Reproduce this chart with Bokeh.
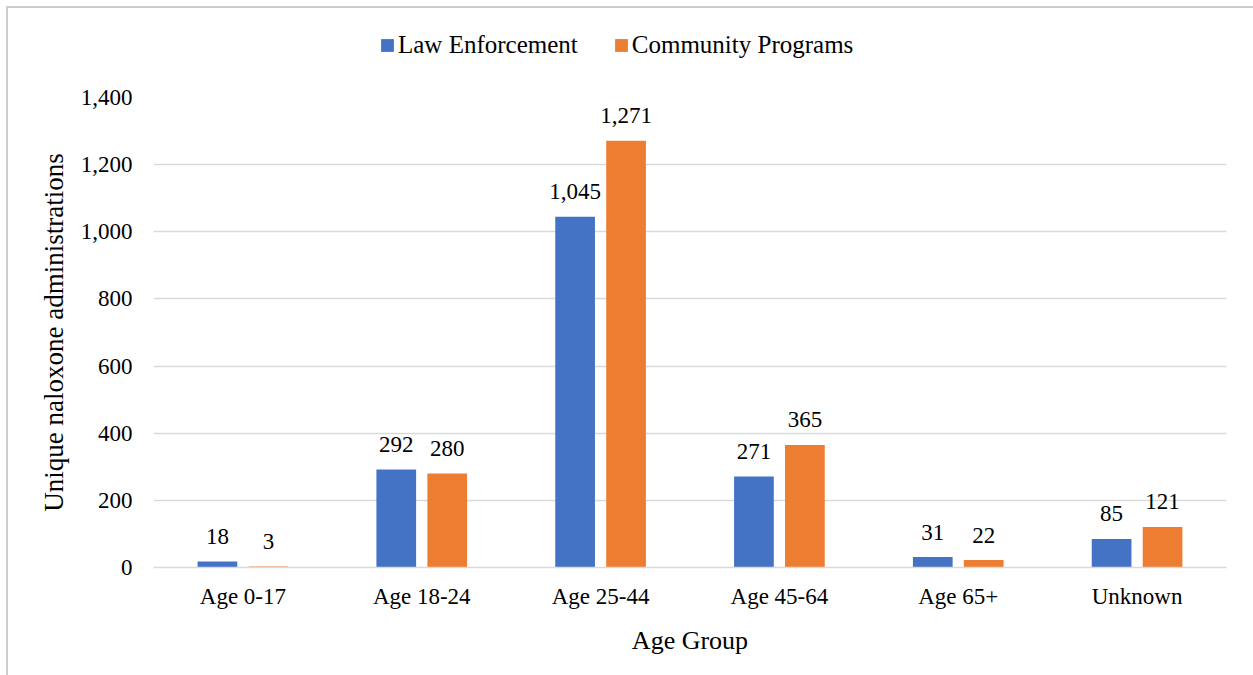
from bokeh.plotting import figure
from bokeh.layouts import column
from bokeh.models import ColumnDataSource, FactorRange, Range1d, NumeralTickFormatter, Legend, LegendItem, FixedTicker
from bokeh.transform import dodge
from bokeh.core.properties import value
from bokeh.embed import file_html
from bokeh.resources import INLINE

# ---- data ----
age_groups = ["Age 0-17", "Age 18-24", "Age 25-44", "Age 45-64", "Age 65+", "Unknown"]
law_enforcement = [18, 292, 1045, 271, 31, 85]
community_programs = [3, 280, 1271, 365, 22, 121]
series_names = ["Law Enforcement", "Community Programs"]
y_ticks = [0, 200, 400, 600, 800, 1000, 1200, 1400]
x_title = "Age Group"
y_title = "Unique naloxone administrations"

FONT = "Liberation Serif"
BLUE = "#4472C4"
ORANGE = "#ED7D31"
GRID = "#d9d9d9"
EDGE = "#cccccc"

src = ColumnDataSource(dict(
    cat=age_groups,
    le=law_enforcement,
    cp=community_programs,
    le_lab=[f"{v:,}" for v in law_enforcement],
    cp_lab=[f"{v:,}" for v in community_programs],
))

# ---------- legend strip ----------
LEG_H = 70
lg = figure(width=1253, height=LEG_H, x_range=Range1d(0, 1), y_range=Range1d(0, 1),
            x_axis_location=None, y_axis_location=None,
            output_backend="svg", toolbar_location=None,
            min_border=0)
lg.grid.visible = False
lg.outline_line_color = None
lg.border_fill_alpha = 0
lg.background_fill_alpha = 0
lg.styles = {"box-shadow": f"inset 6px 6px 0 0 #ffffff, inset 8px 8px 0 0 {EDGE}"}
# swatch renderers for the legend (zero-height, so nothing is drawn in the strip)
swatch = ColumnDataSource(dict(x=[0.5], top=[0]))
d1 = lg.vbar(x="x", top="top", bottom=0, width=0.01, fill_color=BLUE, line_color=None, source=swatch)
d2 = lg.vbar(x="x", top="top", bottom=0, width=0.01, fill_color=ORANGE, line_color=None, source=swatch)
legend = Legend(
    items=[LegendItem(label=series_names[0], renderers=[d1]),
           LegendItem(label=series_names[1], renderers=[d2])],
    orientation="horizontal", location=(226, 11),
    glyph_width=16, glyph_height=16, label_standoff=3, spacing=35,
    padding=0, margin=0, border_line_color=None, background_fill_alpha=0,
    label_text_font=FONT, label_text_font_size="25px", label_text_color="#000000",
)
lg.add_layout(legend, "center")

# ---------- main chart ----------
p = figure(
    x_range=FactorRange(factors=age_groups, range_padding=0),
    y_range=Range1d(0, 1400),
    width=1253, height=675 - LEG_H,
    output_backend="svg", toolbar_location=None,
    min_border_left=153, min_border_right=27, min_border_top=97 - LEG_H, min_border_bottom=108,
)
p.border_fill_alpha = 0
p.styles = {"box-shadow": f"inset 6px 0 0 0 #ffffff, inset 8px 0 0 0 {EDGE}"}
p.outline_line_color = None

BW = 0.222
OFF = 0.1425
r1 = p.vbar(x=dodge("cat", -OFF, range=p.x_range), top="le", width=BW, bottom=0,
            fill_color=BLUE, line_color=None, source=src)
r2 = p.vbar(x=dodge("cat", OFF, range=p.x_range), top="cp", width=BW, bottom=0,
            fill_color=ORANGE, line_color=None, source=src)

for xoff, col, lab in [(-OFF, "le", "le_lab"), (OFF, "cp", "cp_lab")]:
    p.text(x=dodge("cat", xoff, range=p.x_range), y=col, text=lab, source=src,
           text_align="center", text_baseline="alphabetic", y_offset=-25,
           text_font=value(FONT), text_font_size=value("23px"), text_color="#000000")

# x axis
xa = p.xaxis[0]
xa.axis_label = x_title
xa.axis_label_text_font = FONT
xa.axis_label_text_font_size = "26px"
xa.axis_label_text_font_style = "normal"
xa.axis_label_text_color = "#000000"
xa.axis_label_standoff = 14
xa.major_label_text_font = FONT
xa.major_label_text_font_size = "23px"
xa.major_label_text_color = "#000000"
xa.major_label_standoff = 10
xa.major_tick_line_color = None
xa.minor_tick_line_color = None
xa.axis_line_color = GRID
xa.axis_line_width = 1.5

# y axis
ya = p.yaxis[0]
ya.axis_label = y_title
ya.axis_label_text_font = FONT
ya.axis_label_text_font_size = "27px"
ya.axis_label_text_font_style = "normal"
ya.axis_label_text_color = "#000000"
ya.axis_label_standoff = 9
ya.major_label_text_font = FONT
ya.major_label_text_font_size = "23px"
ya.major_label_text_color = "#000000"
ya.major_label_standoff = 21
ya.major_tick_out = 0
ya.major_tick_line_color = None
ya.minor_tick_line_color = None
ya.axis_line_color = None
ya.ticker = FixedTicker(ticks=y_ticks)
ya.formatter = NumeralTickFormatter(format="0,0")

p.xgrid.grid_line_color = None
p.ygrid.grid_line_color = GRID
p.ygrid.grid_line_width = 1.5
p.ygrid.ticker = FixedTicker(ticks=y_ticks)

layout = column(lg, p, spacing=0)
open("out.html", "w").write(file_html(layout, INLINE))
